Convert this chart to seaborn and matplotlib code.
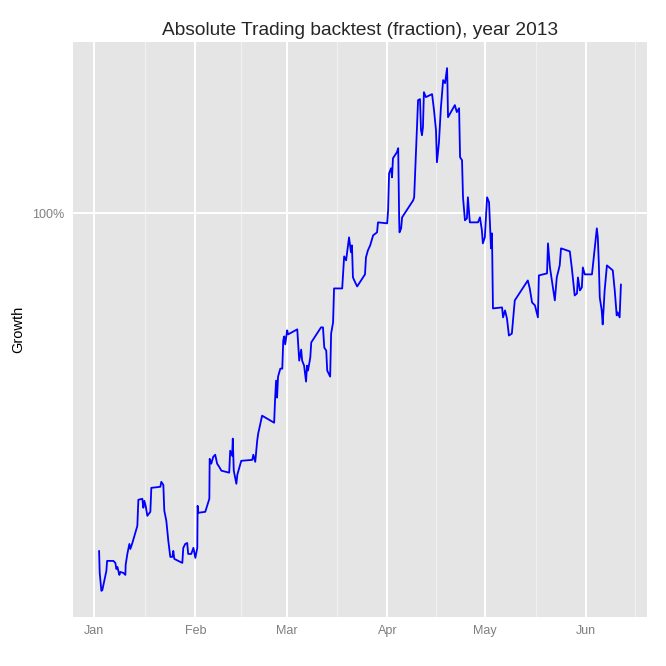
import pandas as pd
import matplotlib
matplotlib.use("Agg")
import matplotlib.pyplot as plt
import matplotlib.ticker as mticker
import seaborn as sns

# days since 2013-01-01 and growth (fraction)
start = "2013-01-01"
day = [1.44, 1.63, 2.15, 2.45, 3.68, 3.9, 5.83, 6.44, 6.75, 7.06, 7.67, 7.98, 8.9, 9.51,
       9.6, 10.12, 10.74, 11.04, 11.66, 13.19, 13.5, 14.72, 15.03, 15.34, 15.74, 16.26,
       17.18, 17.48, 20.25, 20.55, 21.17, 21.47, 22.09, 22.7, 23.31, 23.93, 24.23, 24.54,
       27.0, 27.3, 27.9, 28.5, 28.8, 29.75, 30.4, 31.0, 31.6, 31.7, 31.9, 34.05, 35.3,
       35.4, 35.9, 36.5, 37.1, 37.7, 38.3, 39.0, 41.4, 41.7, 42.3, 42.5, 42.8, 43.6, 43.9,
       44.5, 45.1, 48.5, 48.8, 49.4, 50.0, 50.3, 51.5, 55.2, 55.5, 55.8, 56.1, 56.4, 57.1,
       57.7, 58.0, 58.3, 58.6, 59.2, 59.5, 62.3, 62.9, 63.5, 63.8, 64.4, 65.0, 65.3, 65.6,
       66.3, 66.6, 69.6, 70.2, 70.6, 71.2, 71.5, 72.4, 72.7, 73.3, 73.6, 76.1, 76.7, 77.3,
       78.2, 78.8, 79.1, 79.4, 80.1, 80.7, 83.1, 83.4, 84.0, 84.7, 85.6, 86.8, 87.1, 89.9,
       90.2, 90.5, 91.1, 91.4, 91.7, 92.9, 93.3, 93.6, 93.7, 94.2, 94.5, 97.9, 98.2, 99.4,
       100.0, 100.3, 100.6, 100.9, 101.2, 101.8, 103.7, 104.3, 104.9, 105.2, 105.8, 106.4,
       107.1, 107.7, 108.3, 108.4, 108.6, 110.7, 111.3, 112.0, 112.3, 112.9, 113.2, 113.8,
       114.4, 114.7, 115.3, 117.8, 118.4, 119.0, 119.3, 119.9, 120.6, 121.2, 121.8, 122.1,
       122.4, 125.2, 125.5, 126.1, 126.7, 127.3, 128.2, 129.1, 133.1, 133.7, 134.4, 135.3,
       136.2, 136.5, 139.0, 139.3, 139.9, 140.8, 141.4, 142.0, 142.9, 143.3, 146.0, 146.6,
       147.5, 148.2, 148.5, 149.1, 149.7, 150.0, 150.6, 152.8, 153.1, 154.3, 154.6, 154.9,
       155.2, 155.8, 156.1, 156.7, 157.4, 159.2, 159.8, 160.4, 160.7, 161.3, 161.7]
growth = [0.3356, 0.3125, 0.2949, 0.2958, 0.3146, 0.3249, 0.3249, 0.3228, 0.3165, 0.3186,
          0.3105, 0.3135, 0.3125, 0.3105, 0.3207, 0.3323, 0.3432, 0.3377, 0.3443, 0.3639,
          0.3959, 0.3972, 0.3858, 0.3946, 0.3882, 0.3759, 0.3808, 0.4115, 0.4129, 0.4196,
          0.4155, 0.3821, 0.3699, 0.3467, 0.3291, 0.3291, 0.3356, 0.3270, 0.3228, 0.3389,
          0.3432, 0.3443, 0.3323, 0.3323, 0.3389, 0.3281, 0.3389, 0.3882, 0.3796, 0.3808,
          0.3972, 0.4520, 0.4449, 0.4550, 0.4580, 0.4449, 0.4406, 0.4350, 0.4322, 0.4640,
          0.4565, 0.4825, 0.4350, 0.4169, 0.4294, 0.4391, 0.4491, 0.4505, 0.4580, 0.4476,
          0.4794, 0.4904, 0.5197, 0.5080, 0.5492, 0.5821, 0.5510, 0.5897, 0.6051, 0.6051,
          0.6630, 0.6716, 0.6545, 0.6849, 0.6760, 0.6871, 0.6210, 0.6435, 0.6210, 0.6110,
          0.5802, 0.6110, 0.6013, 0.6271, 0.6587, 0.6915, 0.6915, 0.6477, 0.6414, 0.6013,
          0.5897, 0.6777, 0.7027, 0.7843, 0.7843, 0.8700, 0.8589, 0.9252, 0.8814, 0.9016,
          0.8128, 0.7996, 0.7894, 0.8208, 0.8672, 0.8871, 0.9016, 0.9312, 0.9403, 0.9712,
          0.9681, 1.0098, 1.1382, 1.1568, 1.1235, 1.1951, 1.2185, 1.2345, 0.9776, 0.9403,
          0.9526, 0.9871, 1.0430, 1.0532, 1.4421, 1.4468, 1.3088, 1.2875, 1.3213, 1.4799,
          1.4563, 1.4705, 1.3958, 1.3088, 1.1797, 1.2546, 1.4049, 1.5386, 1.5237, 1.5996,
          1.5386, 1.3647, 1.4191, 1.3874, 1.4049, 1.1989, 1.1873, 1.0532, 0.9776, 0.9839,
          1.0532, 0.9712, 0.9712, 0.9871, 0.9464, 0.9073, 0.9252, 1.0532, 1.0363, 0.8929,
          0.9373, 0.7352, 0.7376, 0.7142, 0.7305, 0.7118, 0.6735, 0.6777, 0.7545, 0.8048,
          0.7843, 0.7496, 0.7424, 0.7142, 0.8181, 0.8234, 0.9073, 0.8395, 0.7869, 0.7545,
          0.8128, 0.8450, 0.8929, 0.8842, 0.8395, 0.7667, 0.7717, 0.8128, 0.7793, 0.7869,
          0.8395, 0.8208, 0.8208, 0.8450, 0.9526, 0.9252, 0.8533, 0.7617, 0.7305, 0.6982,
          0.7793, 0.8450, 0.8314, 0.7793, 0.7188, 0.7258, 0.7142, 0.7946]

month_labels = ["Jan", "Feb", "Mar", "Apr", "May", "Jun"]

df = pd.DataFrame({
    "date": pd.Timestamp(start) + pd.to_timedelta(day, unit="D"),
    "growth": growth,
})

sns.set_style("darkgrid", {"axes.facecolor": "#E5E5E5", "grid.color": "white"})
plt.rcParams["font.family"] = ["Liberation Sans", "DejaVu Sans"]

fig = plt.figure(figsize=(6.66, 6.66), dpi=100)
ax = fig.add_axes([0.1096, 0.0736, 0.8619, 0.8634])

sns.lineplot(data=df, x="date", y="growth", color="blue", lw=1.3,
             sort=False, estimator=None, ax=ax)

ax.set_yscale("log")
ax.yaxis.set_major_locator(mticker.FixedLocator([1.0]))
ax.yaxis.set_major_formatter(mticker.FixedFormatter(["100%"]))
ax.yaxis.set_minor_locator(mticker.NullLocator())

# month breaks, minor gridlines halfway between them
months = pd.date_range("2013-01-01", "2013-06-01", freq="MS")
edges = pd.date_range("2012-12-01", "2013-07-01", freq="MS")
mids = [edges[i] + (edges[i + 1] - edges[i]) / 2 for i in range(len(edges) - 1)]
ax.set_xticks(months)
ax.set_xticklabels(month_labels)
ax.set_xticks(mids, minor=True)

# ggplot-style 5% expansion around the data
lo, hi = df["date"].min(), df["date"].max()
pad = (hi - lo) * 0.05
ax.set_xlim(lo - pad, hi + pad)

ax.grid(which="major", color="white", lw=1.4)
ax.grid(which="minor", color="#F2F2F2", lw=0.7)
for s in ax.spines.values():
    s.set_visible(False)

ax.tick_params(which="major", length=4, width=0.8, color="#7F7F7F",
               labelcolor="#7F7F7F", labelsize=9, pad=2)
ax.tick_params(which="minor", length=0)

ax.set_xlabel("")
ax.set_ylabel("Growth", fontsize=10.5, color="black", labelpad=5)
ax.set_title("Absolute Trading backtest (fraction), year 2013", fontsize=13.8, pad=5)

fig.savefig("out.png", dpi=100)
